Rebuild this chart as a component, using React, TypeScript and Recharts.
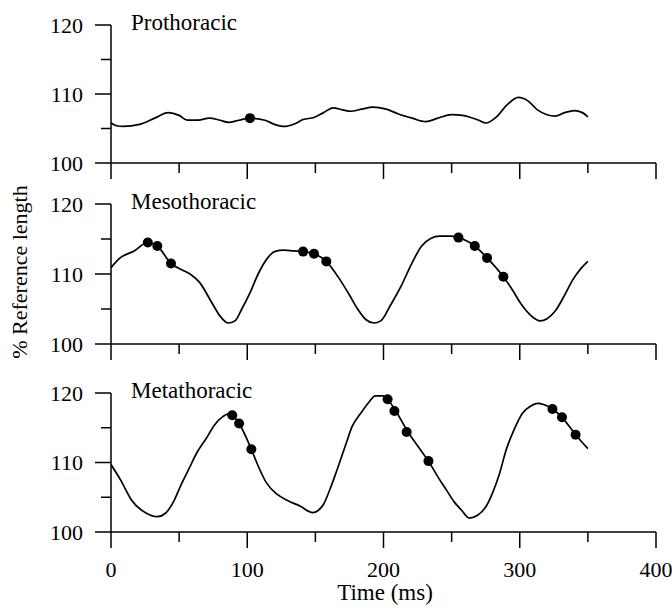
import React from "react";
import { LineChart, Line, XAxis, YAxis } from "recharts";

// shared axes
const xTicks = [0, 50, 100, 150, 200, 250, 300, 350, 400];
const yTicks = [100, 105, 110, 115, 120];

// Prothoracic
const proTime = [0, 4, 9, 21, 32, 42, 50, 56, 64, 72, 80, 86, 94, 102, 113, 120, 127, 135, 141, 149, 156, 163, 170, 176, 184, 192, 202, 211, 221, 231, 240, 250, 258, 264, 270, 275, 283, 291, 299, 306, 313, 320, 326, 333, 340, 346, 350];
const proLength = [105.8, 105.4, 105.3, 105.6, 106.5, 107.3, 106.9, 106.2, 106.2, 106.5, 106.2, 105.9, 106.2, 106.5, 106.2, 105.6, 105.3, 105.7, 106.3, 106.6, 107.3, 108.0, 107.7, 107.5, 107.8, 108.1, 107.8, 107.1, 106.5, 106.0, 106.5, 107.0, 106.9, 106.6, 106.2, 105.8, 106.7, 108.5, 109.5, 109.0, 107.7, 107.0, 106.8, 107.3, 107.6, 107.3, 106.7];
const proDotTime = [102];
const proDotLength = [106.5];

// Mesothoracic
const mesoTime = [0, 6, 17, 27, 34, 44, 52, 58, 65, 74, 80, 86, 91, 96, 102, 108, 115, 120, 127, 134, 141, 149, 158, 168, 175, 181, 187, 193, 198, 205, 213, 220, 228, 235, 241, 249, 255, 267, 276, 288, 295, 301, 308, 315, 320, 326, 333, 339, 345, 350];
const mesoLength = [110.9, 112.2, 113.3, 114.5, 114.0, 111.5, 110.6, 110.0, 108.8, 105.9, 104.0, 103.0, 103.3, 105.0, 107.3, 110.0, 112.3, 113.2, 113.4, 113.3, 113.2, 112.9, 111.8, 109.2, 107.0, 105.0, 103.5, 103.0, 103.3, 105.5, 108.3, 111.2, 114.0, 115.1, 115.4, 115.4, 115.2, 114.0, 112.3, 109.6, 107.6, 105.7, 104.1, 103.3, 103.6, 104.7, 107.0, 109.2, 110.8, 111.8];
const mesoDotTime = [27, 34, 44, 141, 149, 158, 255, 267, 276, 288];
const mesoDotLength = [114.5, 114.0, 111.5, 113.2, 112.9, 111.8, 115.2, 114.0, 112.3, 109.6];

// Metathoracic
const metaTime = [0, 7, 15, 26, 34, 40, 46, 51, 57, 63, 70, 76, 82, 86, 89, 94, 103, 108, 114, 122, 130, 139, 148, 152, 156, 161, 166, 172, 177, 183, 189, 194, 200, 203, 209, 218, 225, 233, 240, 246, 252, 257, 263, 269, 275, 280, 285, 290, 296, 302, 308, 313, 318, 324, 331, 341, 350];
const metaLength = [109.7, 107.5, 104.6, 102.7, 102.2, 102.7, 104.4, 106.6, 109.0, 111.4, 113.5, 115.4, 116.6, 117.0, 116.8, 115.6, 111.9, 109.5, 107.1, 105.4, 104.5, 103.7, 102.8, 103.1, 104.0, 106.3, 109.0, 112.4, 115.2, 117.0, 118.6, 119.6, 119.6, 119.1, 117.4, 114.4, 112.4, 110.2, 107.9, 106.1, 104.3, 103.2, 102.0, 102.4, 103.6, 105.6, 108.3, 111.8, 114.8, 117.1, 118.1, 118.5, 118.3, 117.7, 116.5, 114.0, 112.0];
const metaDotTime = [89, 94, 103, 203, 208, 217, 233, 324, 331, 341];
const metaDotLength = [116.8, 115.6, 111.9, 119.1, 117.4, 114.4, 110.2, 117.7, 116.5, 114.0];

const FONT = '"Liberation Serif", "Times New Roman", serif';

const zip = (t: number[], v: number[]) => t.map((x, i) => ({ t: x, v: v[i] }));

function XTick(props: any) {
  const { x, y, payload, showLabel } = props;
  const major = payload.value % 100 === 0;
  return (
    <g>
      <line x1={x} y1={y} x2={x} y2={y + (major ? 16 : 10)} stroke="#000" strokeWidth={1.5} />
      {showLabel && major && (
        <text x={x} y={y + 45} textAnchor="middle" fontFamily={FONT} fontSize={22} fill="#000">
          {payload.value}
        </text>
      )}
    </g>
  );
}

function YTick(props: any) {
  const { x, y, payload } = props;
  const major = payload.value % 10 === 0;
  return (
    <g>
      <line x1={x - (major ? 16 : 10)} y1={y} x2={x} y2={y} stroke="#000" strokeWidth={1.5} />
      {major && (
        <text x={x - 28} y={y + 7.5} textAnchor="end" fontFamily={FONT} fontSize={22} fill="#000">
          {payload.value}
        </text>
      )}
    </g>
  );
}

interface PanelProps {
  top: number;
  plotH: number;
  xh: number;
  curve: { t: number; v: number }[];
  dots: { t: number; v: number }[];
  showLabels?: boolean;
}

const PAD = 20;

function Panel({ top, plotH, xh, curve, dots, showLabels = false }: PanelProps) {
  const axisLine = { stroke: "#000", strokeWidth: 1.5 };
  return (
    <div style={{ position: "absolute", left: 0, top: top - PAD }}>
      <LineChart width={672} height={PAD + plotH + xh} margin={{ top: PAD, right: 16, bottom: 0, left: 51 }}>
        <XAxis
          dataKey="t"
          type="number"
          domain={[0, 400]}
          ticks={xTicks}
          interval={0}
          height={xh}
          tickSize={0}
          tickMargin={0}
          tickLine={false}
          axisLine={axisLine}
          allowDataOverflow
          tick={(p: any) => <XTick {...p} showLabel={showLabels} />}
        />
        <YAxis
          type="number"
          domain={[100, 120]}
          ticks={yTicks}
          interval={0}
          width={60}
          tickSize={0}
          tickMargin={0}
          tickLine={false}
          axisLine={axisLine}
          allowDataOverflow
          tick={(p: any) => <YTick {...p} />}
        />
        <Line data={curve} dataKey="v" type="monotone" stroke="#000" strokeWidth={1.7} dot={false} activeDot={false} isAnimationActive={false} />
        <Line
          data={dots}
          dataKey="v"
          stroke="none"
          dot={{ r: 5, fill: "#000", stroke: "#000", strokeWidth: 0 }}
          activeDot={false}
          isAnimationActive={false}
        />
      </LineChart>
    </div>
  );
}

export default function App() {
  const panels = [
    { name: "Prothoracic", top: 25, plotH: 138, xh: 20, curve: zip(proTime, proLength), dots: zip(proDotTime, proDotLength) },
    { name: "Mesothoracic", top: 204, plotH: 140, xh: 20, curve: zip(mesoTime, mesoLength), dots: zip(mesoDotTime, mesoDotLength) },
    { name: "Metathoracic", top: 393, plotH: 139, xh: 50, curve: zip(metaTime, metaLength), dots: zip(metaDotTime, metaDotLength) },
  ];
  return (
    <div style={{ position: "absolute", left: 0, top: 0, width: 672, height: 612, background: "#fff" }}>
      {panels.map((p, i) => (
        <Panel key={p.name} top={p.top} plotH={p.plotH} xh={p.xh} curve={p.curve} dots={p.dots} showLabels={i === 2} />
      ))}
      <svg width={672} height={612} style={{ position: "absolute", left: 0, top: 0, pointerEvents: "none" }}>
        {panels.map((p) => (
          <text key={p.name} x={131} y={p.top + 4.5} fontFamily={FONT} fontSize={23} fill="#000">
            {p.name}
          </text>
        ))}
        <text x={27} y={272} transform="rotate(-90 27 272)" textAnchor="middle" fontFamily={FONT} fontSize={22} fill="#000">
          % Reference length
        </text>
        <text x={385} y={600} textAnchor="middle" fontFamily={FONT} fontSize={23} fill="#000">
          Time (ms)
        </text>
      </svg>
    </div>
  );
}
